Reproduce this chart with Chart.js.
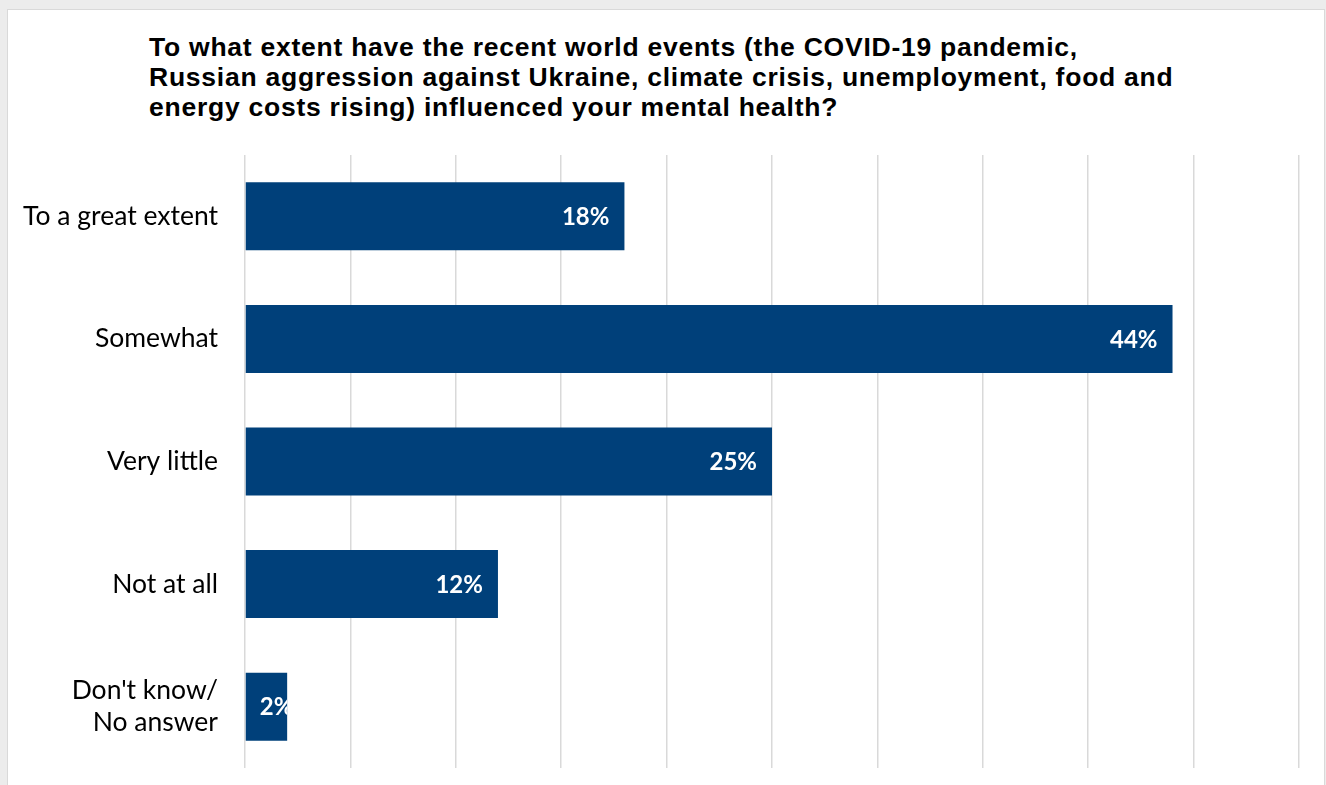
<!DOCTYPE html>
<html>
<head>
<meta charset="utf-8">
<script src="https://cdn.jsdelivr.net/npm/chart.js@4"></script>
<style>
  html, body { margin: 0; padding: 0; background: #ececec; overflow: hidden; }
  #panel {
    position: absolute; left: 7px; top: 9px; width: 1316px; height: 800px;
    background: #fff; border: 1px solid #d9d9d9;
  }
  #title {
    position: absolute; left: 149px; top: 32px;
    font-family: "Liberation Sans", Arial, sans-serif; font-weight: bold;
    font-size: 26.5px; line-height: 30px; letter-spacing: 0.75px; color: #000; white-space: nowrap;
  }
  #wrap { position: absolute; left: 0; top: 0; width: 1326px; height: 785px; }
</style>
</head>
<body>
<div id="panel"></div>
<div id="title">To what extent have the recent world events (the COVID-19 pandemic,<br>Russian aggression against Ukraine, climate crisis, unemployment, food and<br>energy costs rising) influenced your mental health?</div>
<div id="wrap"><canvas id="chart" width="1326" height="785"></canvas></div>
<script>
const categories = ['To a great extent', 'Somewhat', 'Very little', 'Not at all', ["Don't know/", 'No answer']];
const shares = [18, 44, 25, 12, 2];
const xMax = 50;
const xStep = 5;

// value labels drawn inside the bar end, clipped to the bar
const barLabels = {
    id: 'barLabels',
    afterDatasetsDraw(chart) {
        const ctx = chart.ctx;
        const meta = chart.getDatasetMeta(0);
        ctx.save();
        ctx.font = 'bold 24px Lato, "Open Sans", sans-serif';
        ctx.fillStyle = '#ffffff';
        ctx.textBaseline = 'middle';
        meta.data.forEach(function (bar, i) {
            const text = shares[i] + '%';
            const w = ctx.measureText(text).width;
            const left = bar.base;
            const right = bar.x;
            let x = right - 15 - w;
            if (x < left + 14) x = left + 14;
            ctx.save();
            ctx.beginPath();
            ctx.rect(left, bar.y - bar.height / 2, right - left, bar.height);
            ctx.clip();
            ctx.fillText(text, x, bar.y + 1);
            ctx.restore();
        });
        ctx.restore();
    }
};

const ctx = document.getElementById('chart').getContext('2d');
new Chart(ctx, {
    type: 'bar',
    data: {
        labels: categories,
        datasets: [{
            data: shares,
            backgroundColor: '#00407a',
            barPercentage: 0.555,
            categoryPercentage: 1
        }]
    },
    options: {
        indexAxis: 'y',
        responsive: false,
        animation: false,
        devicePixelRatio: 1,
        layout: { padding: { top: 155, bottom: 17, right: 27, left: 0 } },
        plugins: { legend: { display: false }, tooltip: { enabled: false } },
        scales: {
            x: {
                min: 0,
                max: xMax,
                afterFit: function (scale) { scale.height = 0; },
                ticks: { display: false, stepSize: xStep },
                grid: { color: '#d9d9d9', lineWidth: 1.5, drawTicks: false },
                border: { display: false }
            },
            y: {
                afterFit: function (scale) {
                    scale.width = 245;
                    scale.paddingTop = 0;
                    scale.paddingBottom = 0;
                },
                ticks: {
                    padding: 27,
                    color: '#000',
                    font: { family: 'Lato, "Open Sans", sans-serif', size: 26.5, lineHeight: 1.22 }
                },
                grid: { display: false, drawTicks: false },
                border: { display: false }
            }
        }
    },
    plugins: [barLabels]
});
</script>
</body>
</html>
